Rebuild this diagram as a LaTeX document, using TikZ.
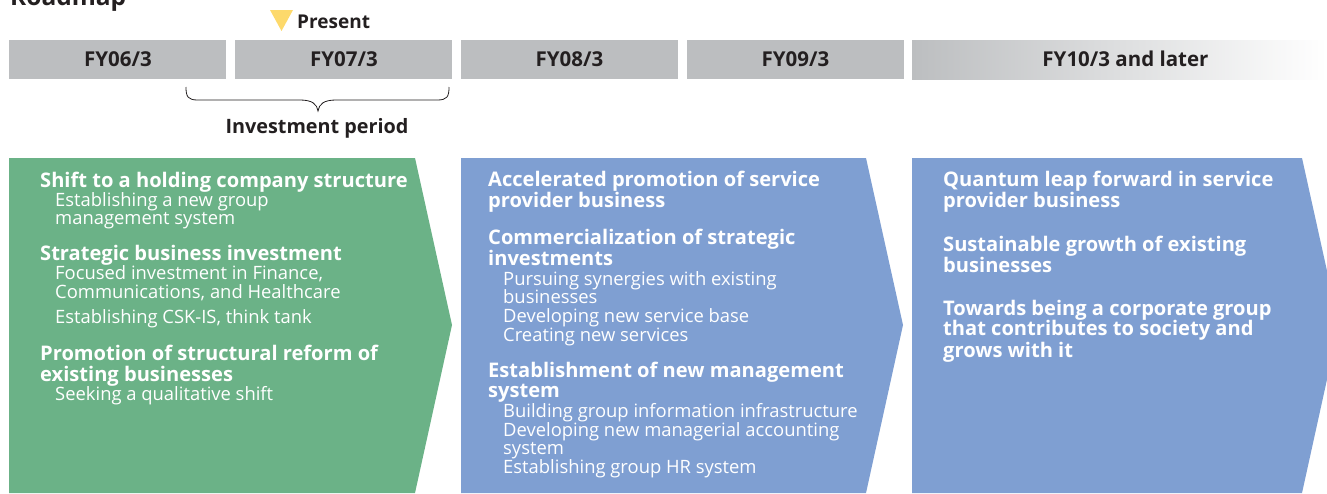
\documentclass[tikz,border=0pt]{standalone}
\usepackage{fontspec}
\setmainfont{Open Sans}
\usetikzlibrary{shadings}
\definecolor{bargray}{HTML}{BCBEC0}
\definecolor{ink}{HTML}{231F20}
\definecolor{leafgreen}{HTML}{6BB287}
\definecolor{slateblue}{HTML}{7F9FD2}
\definecolor{marker}{HTML}{FDD96B}
\tikzset{
  x=1pt, y=-1pt,
  yearbar/.style={fill=bargray, draw=none},
  yeartext/.style={text=ink, font=\fontsize{20.5}{24}\selectfont\bfseries, inner sep=0pt},
  head/.style={anchor=base west, inner sep=0pt, text=white, font=\fontsize{20.1}{22}\selectfont\bfseries},
  item/.style={anchor=base west, inner sep=0pt, text=white, font=\fontsize{18.4}{20}\selectfont},
}
\begin{document}
\begin{tikzpicture}
\useasboundingbox (0,0) rectangle (1327,493);

% heading, partly above the page edge
\node[anchor=base west, inner sep=0pt, text=ink, font=\fontsize{24.5}{28}\selectfont\bfseries] (title) at (10,5) {Roadmap};

% fiscal-year bars
\fill[yearbar] (9,40) rectangle (226,79);
\fill[yearbar] (235,40) rectangle (452,79);
\fill[yearbar] (461,40) rectangle (678,79);
\fill[yearbar] (687,40) rectangle (904,79);
\shade[left color=bargray, right color=white] (912,40) rectangle (1327,79);
\node[yeartext] (fy06) at (118,59) {FY06/3};
\node[yeartext] (fy07) at (344,59) {FY07/3};
\node[yeartext] (fy08) at (569.5,59) {FY08/3};
\node[yeartext] (fy09) at (795.5,59) {FY09/3};
\node[yeartext] (fy10) at (1125.5,59) {FY10/3 and later};

% present marker
\fill[marker] (270,10) -- (293,10) -- (281.5,31) -- cycle;
\node[anchor=base west, inner sep=0pt, text=ink, font=\fontsize{19}{22}\selectfont\bfseries] (present) at (297,28) {Present};

% investment period brace
\draw[ink, line width=0.8pt]
  (186,87) .. controls (186,97) and (188,100) .. (198,100)
  -- (300,100) .. controls (312,100) and (317,104) .. (318,111)
  .. controls (319,104) and (324,100) .. (336,100)
  -- (437,100) .. controls (447,100) and (449,97) .. (449,87);
\node[anchor=base, inner sep=0pt, text=ink, font=\fontsize{19.8}{22}\selectfont\bfseries] (invest) at (317,133) {Investment period};

% phase arrows
\fill[leafgreen] (9,158) -- (415,158) -- (452,325) -- (415,493) -- (9,493) -- cycle;
\fill[slateblue] (461,158) -- (866,158) -- (903,325) -- (866,493) -- (461,493) -- cycle;
\fill[slateblue] (912,158) -- (1302,158) -- (1339,325) -- (1302,493) -- (912,493) -- cycle;

% phase 1
\node[head] (a1) at (40,187) {Shift to a holding company structure};
\node[item] (a2) at (55,206) {Establishing a new group};
\node[item] (a3) at (55,224) {management system};
\node[head] (a4) at (40,260) {Strategic business investment};
\node[item] (a5) at (55,279) {Focused investment in Finance,};
\node[item] (a6) at (55,298) {Communications, and Healthcare};
\node[item] (a7) at (55,323) {Establishing CSK-IS, think tank};
\node[head] (a8) at (40,360) {Promotion of structural reform of};
\node[head] (a9) at (40,381) {existing businesses};
\node[item] (a10) at (55,400) {Seeking a qualitative shift};

% phase 2
\node[head] (b1) at (488,186) {Accelerated promotion of service};
\node[head] (b2) at (488,207) {provider business};
\node[head] (b3) at (488,244) {Commercialization of strategic};
\node[head] (b4) at (488,265) {investments};
\node[item] (b5) at (503,285) {Pursuing synergies with existing};
\node[item] (b6) at (503,303) {businesses};
\node[item] (b7) at (503,322) {Developing new service base};
\node[item] (b8) at (503,341) {Creating new services};
\node[head] (b9) at (488,377) {Establishment of new management};
\node[head] (b10) at (488,397) {system};
\node[item] (b11) at (503,417) {Building group information infrastructure};
\node[item] (b12) at (503,436) {Developing new managerial accounting};
\node[item] (b13) at (503,454) {system};
\node[item] (b14) at (503,473) {Establishing group HR system};

% phase 3
\node[head] (c1) at (943,186) {Quantum leap forward in service};
\node[head] (c2) at (943,207) {provider business};
\node[head] (c3) at (943,251) {Sustainable growth of existing};
\node[head] (c4) at (943,272) {businesses};
\node[head] (c5) at (943,315) {Towards being a corporate group};
\node[head] (c6) at (943,335) {that contributes to society and};
\node[head] (c7) at (943,357) {grows with it};
\end{tikzpicture}
\end{document}
